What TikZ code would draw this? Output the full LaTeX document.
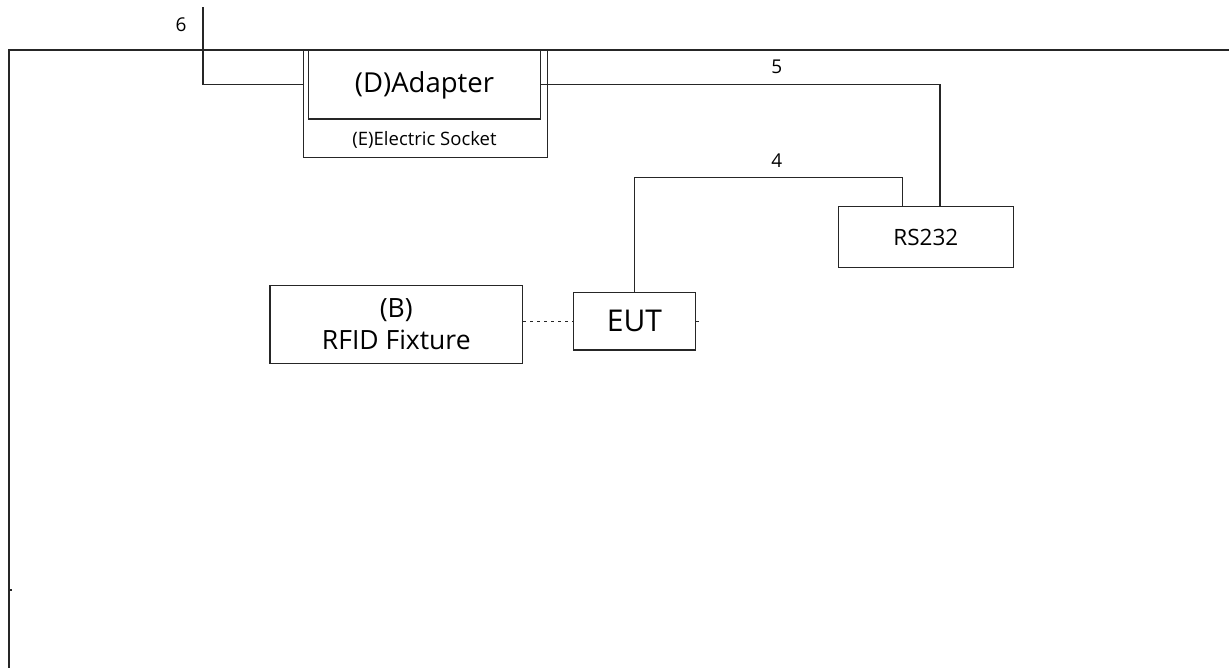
\documentclass[tikz,border=0pt]{standalone}
\usepackage{fontspec}
\setmainfont{Open Sans}
\usetikzlibrary{positioning}

\begin{document}
\begin{tikzpicture}[
  x=1pt,y=1pt,
  unit/.style={rectangle,draw=black!85,line width=1.2pt,inner sep=0pt,align=center,
    font=\fontsize{26.5}{32}\selectfont},
  cable/.style={draw=black!85,line width=1.2pt},
  cablenum/.style={font=\fontsize{19}{20}\selectfont},
  frameline/.style={draw=black!85,line width=1.5pt}
]
\useasboundingbox (0,0) rectangle (1229,-668);
% table frame
\draw[frameline] (1229,-50) -- (9,-50) -- (9,-668);
\draw[frameline] (9,-590) -- (12,-590);
% socket with the adapter plugged in
\node[unit,minimum width=244,minimum height=108] (socket) at (425.3,-103.3) {};
\node[unit,minimum width=232.4,minimum height=68.3,font=\fontsize{27.5}{32}\selectfont]
  (adapter) at (424.5,-84.9) {(D)Adapter};
\node[font=\fontsize{18.5}{20}\selectfont,below=8pt of adapter] (socketlab) {(E)Electric Socket};
% devices
\node[unit,minimum width=175,minimum height=61,font=\fontsize{22.5}{24}\selectfont]
  (rs) at (925.8,-237.2) {RS232};
\node[unit,minimum width=252.7,minimum height=77.6] (rfid) at (396.3,-324.5) {(B)\\RFID Fixture};
\node[unit,minimum width=122.4,minimum height=57.3,font=\fontsize{30}{32}\selectfont]
  (eut) at (634.5,-321.3) {EUT};
% cables
\coordinate (c6) at (203,-7);
\draw[cable] (adapter.west -| socket.west) -| (c6);
\draw[cable] (adapter.east) -| ([xshift=14.2pt]rs.north);
\draw[cable] (eut.north) -- ++(0,114.7) -| ([xshift=-23.5pt]rs.north);
\draw[cable,dash pattern=on 3pt off 4pt] (rfid.east |- eut.west) -- (eut.west);
\draw[cable] (eut.east) -- ++(3,0);
% cable numbers
\node[cablenum] (n6) at (181,-25) {6};
\node[cablenum] (n5) at (776.7,-67) {5};
\node[cablenum] (n4) at (776.7,-161) {4};
\end{tikzpicture}
\end{document}
